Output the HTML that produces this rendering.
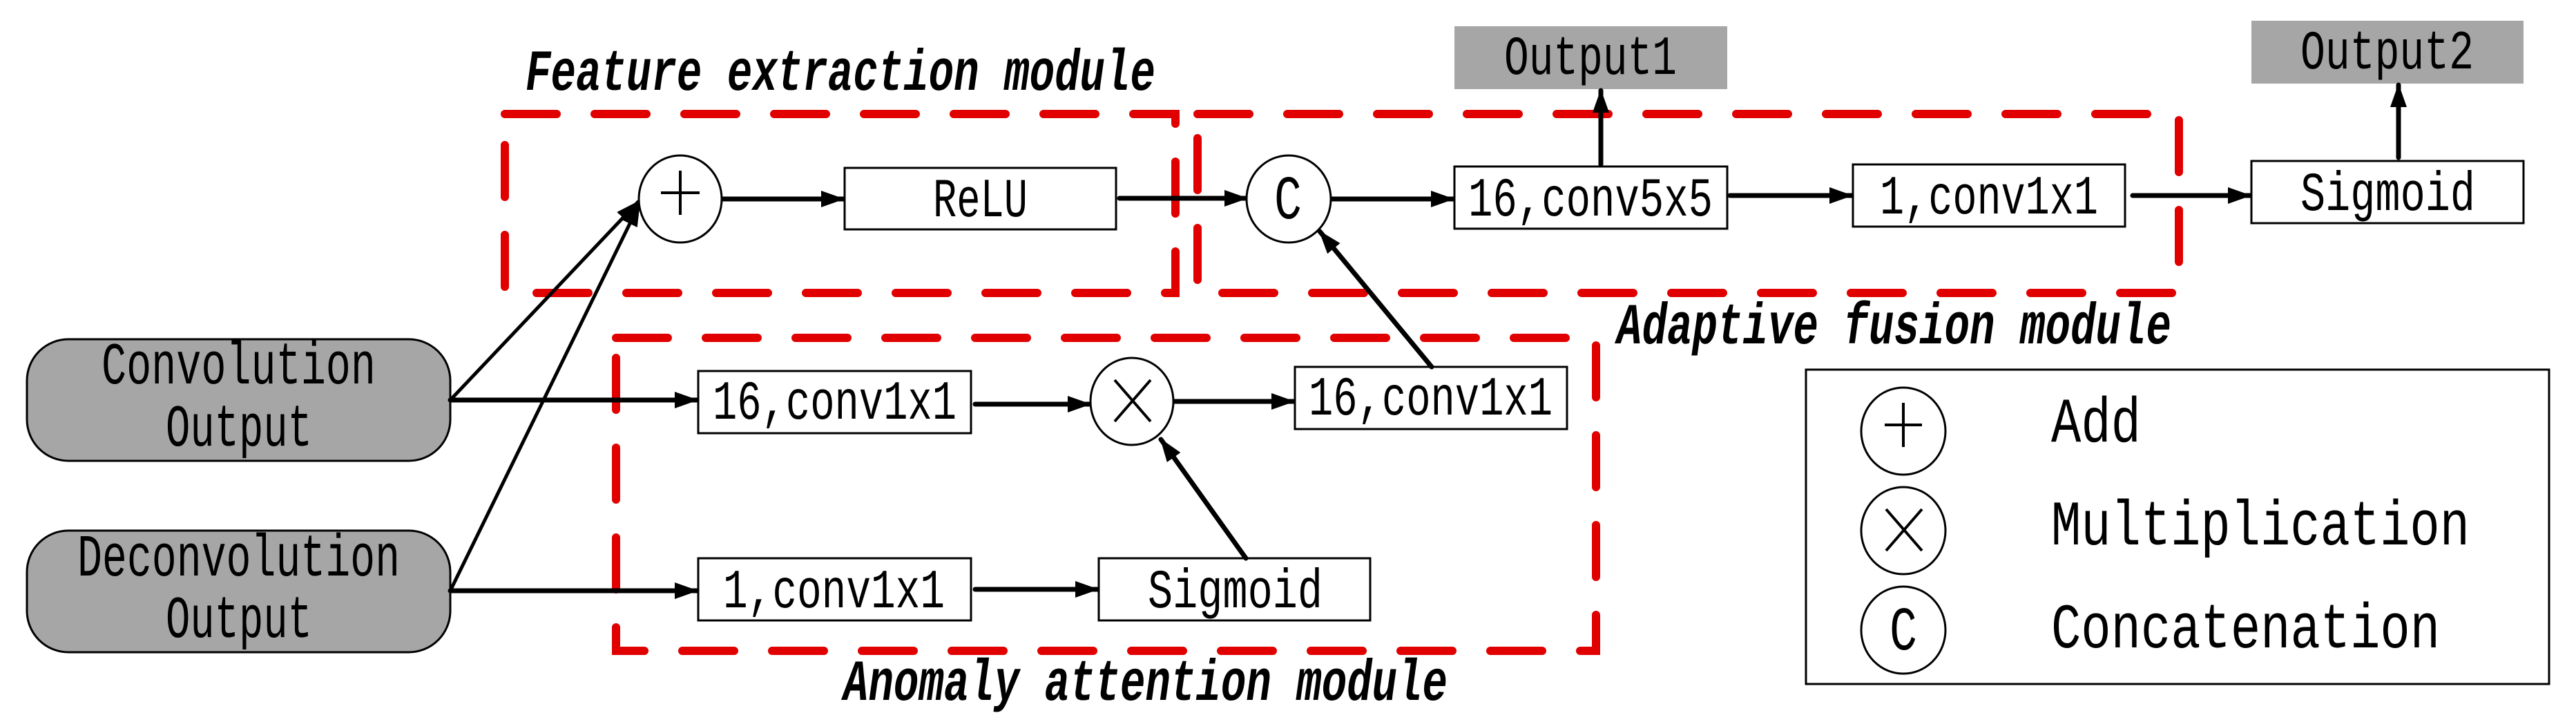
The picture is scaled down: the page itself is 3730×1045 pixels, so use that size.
<!DOCTYPE html>
<html><head><meta charset="utf-8"><style>
html,body{margin:0;padding:0;background:#fff;}
svg{display:block;}
text{font-family:"Liberation Mono",monospace;fill:#000;}
.it{font-family:"Liberation Mono",monospace;font-style:italic;font-weight:bold;}
</style></head><body>
<svg width="3730" height="1045" viewBox="0 0 3730 1045" xmlns="http://www.w3.org/2000/svg">
<defs>
<marker id="ah" markerWidth="34" markerHeight="24" refX="32" refY="12" orient="auto" markerUnits="userSpaceOnUse">
<path d="M0,0 L34,12 L0,24 Z" fill="#000"/></marker>
</defs>

<g fill="none" stroke="#e00000" stroke-width="12" stroke-linecap="round" stroke-dasharray="75 55">
<rect x="731" y="165" width="971" height="259"/>
<rect x="1734" y="165" width="1421" height="259"/>
<rect x="892" y="489" width="1419" height="453"/>
</g>

<text class="it" x="761" y="130" font-size="84" textLength="912" lengthAdjust="spacingAndGlyphs">Feature extraction module</text>
<text class="it" x="2341" y="497" font-size="84" textLength="803" lengthAdjust="spacingAndGlyphs">Adaptive fusion module</text>
<text class="it" x="1221" y="1013" font-size="84" textLength="875" lengthAdjust="spacingAndGlyphs">Anomaly attention module</text>

<rect x="39" y="491" width="613" height="176" rx="60" ry="60" fill="#a6a6a6" stroke="#000" stroke-width="3"/>
<rect x="39" y="768" width="613" height="176" rx="60" ry="60" fill="#a6a6a6" stroke="#000" stroke-width="3"/>
<text x="147" y="555" font-size="86" textLength="397" lengthAdjust="spacingAndGlyphs">Convolution</text>
<text x="240" y="645" font-size="86" textLength="212" lengthAdjust="spacingAndGlyphs">Output</text>
<text x="112" y="833" font-size="86" textLength="467" lengthAdjust="spacingAndGlyphs">Deconvolution</text>
<text x="240" y="922" font-size="86" textLength="212" lengthAdjust="spacingAndGlyphs">Output</text>

<rect x="2106" y="38" width="395" height="91" fill="#a6a6a6"/>
<text x="2178" y="107" font-size="80" textLength="250" lengthAdjust="spacingAndGlyphs">Output1</text>
<rect x="3260" y="30" width="394" height="91" fill="#a6a6a6"/>
<text x="3331" y="99" font-size="80" textLength="251" lengthAdjust="spacingAndGlyphs">Output2</text>

<g fill="#fff" stroke="#000" stroke-width="3">
<rect x="1223" y="243" width="393" height="89"/>
<rect x="2106" y="241" width="395" height="90"/>
<rect x="2683" y="238" width="394" height="90"/>
<rect x="3260" y="233" width="394" height="90"/>
<rect x="1011" y="537" width="395" height="90"/>
<rect x="1011" y="808" width="395" height="90"/>
<rect x="1591" y="808" width="393" height="90"/>
<rect x="1875" y="531" width="394" height="90"/>
</g>
<g font-size="80">
<text x="1351" y="313" textLength="137" lengthAdjust="spacingAndGlyphs">ReLU</text>
<text x="2126" y="312" textLength="354" lengthAdjust="spacingAndGlyphs">16,conv5x5</text>
<text x="2722" y="309" textLength="316" lengthAdjust="spacingAndGlyphs">1,conv1x1</text>
<text x="3331" y="304" textLength="253" lengthAdjust="spacingAndGlyphs">Sigmoid</text>
<text x="1032" y="606" textLength="353" lengthAdjust="spacingAndGlyphs">16,conv1x1</text>
<text x="1047" y="879" textLength="321" lengthAdjust="spacingAndGlyphs">1,conv1x1</text>
<text x="1662" y="879" textLength="253" lengthAdjust="spacingAndGlyphs">Sigmoid</text>
<text x="1895" y="600" textLength="353" lengthAdjust="spacingAndGlyphs">16,conv1x1</text>
</g>

<g stroke="#000" stroke-width="7" fill="none" stroke-linecap="round" marker-end="url(#ah)">
<line x1="652" y1="579" x2="924" y2="292" stroke-width="5"/>
<line x1="652" y1="855" x2="926" y2="295" stroke-width="5"/>
<line x1="652" y1="579" x2="1009" y2="579"/>
<line x1="652" y1="855" x2="1009" y2="855"/>
<line x1="1046" y1="288" x2="1221" y2="288"/>
<line x1="1621" y1="287" x2="1805" y2="287"/>
<line x1="1928" y1="288" x2="2104" y2="288"/>
<line x1="2318" y1="238" x2="2318" y2="131"/>
<line x1="2505" y1="283" x2="2681" y2="283"/>
<line x1="3088" y1="283" x2="3258" y2="283"/>
<line x1="3473" y1="228" x2="3473" y2="123"/>
<line x1="1412" y1="585" x2="1578" y2="585"/>
<line x1="1700" y1="581" x2="1873" y2="581"/>
<line x1="1412" y1="853" x2="1589" y2="853"/>
<line x1="1804" y1="808" x2="1681" y2="636"/>
<line x1="2073" y1="531" x2="1911" y2="335"/>
</g>

<g fill="#fff" stroke="#000" stroke-width="3">
<ellipse cx="985" cy="288" rx="60" ry="63"/>
<ellipse cx="1866" cy="288" rx="61" ry="63"/>
<ellipse cx="1639" cy="581" rx="60" ry="63"/>
<ellipse cx="2756" cy="624" rx="61" ry="63"/>
<ellipse cx="2756" cy="768" rx="61" ry="63"/>
<ellipse cx="2756" cy="912" rx="61" ry="63"/>
</g>
<g stroke="#000" stroke-width="4">
<line x1="985" y1="247" x2="985" y2="311"/><line x1="957" y1="279" x2="1013" y2="279"/>
<line x1="2756" y1="583" x2="2756" y2="647"/><line x1="2729" y1="615" x2="2783" y2="615"/>
<line x1="1614" y1="550" x2="1666" y2="610"/><line x1="1666" y1="550" x2="1614" y2="610"/>
<line x1="2731" y1="737" x2="2783" y2="797"/><line x1="2783" y1="737" x2="2731" y2="797"/>
</g>
<text x="1845" y="316" font-size="90" textLength="40" lengthAdjust="spacingAndGlyphs">C</text>
<text x="2736" y="940" font-size="90" textLength="40" lengthAdjust="spacingAndGlyphs">C</text>

<rect x="2615" y="535" width="1076" height="455" fill="none" stroke="#000" stroke-width="3"/>
<g font-size="92">
<text x="2970" y="639" textLength="130" lengthAdjust="spacingAndGlyphs">Add</text>
<text x="2970" y="788" textLength="606" lengthAdjust="spacingAndGlyphs">Multiplication</text>
<text x="2970" y="937" textLength="563" lengthAdjust="spacingAndGlyphs">Concatenation</text>
</g>
</svg>
</body></html>
